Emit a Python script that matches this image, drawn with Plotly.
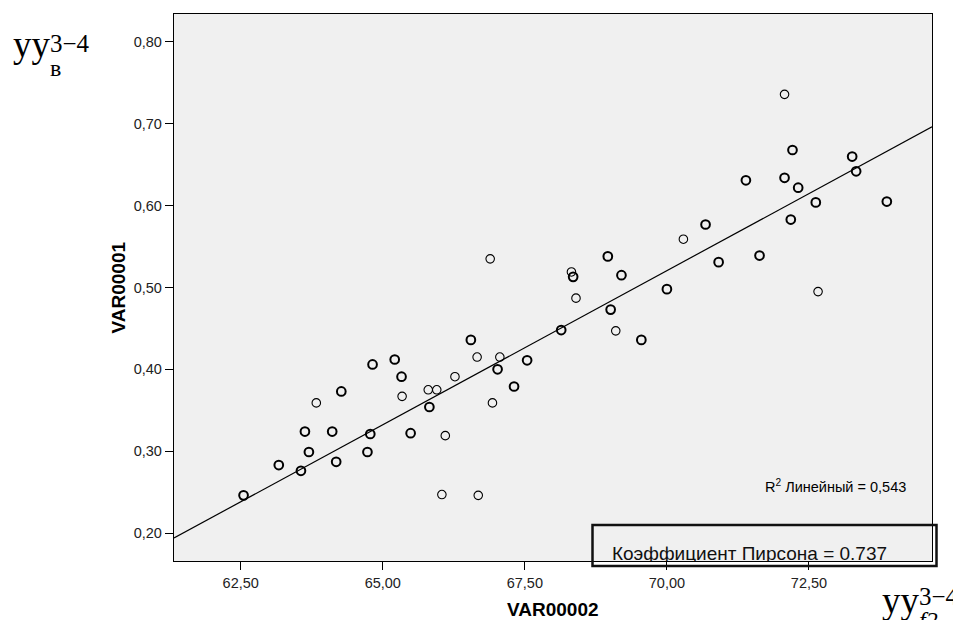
import plotly.graph_objects as go

# ---- data ----
bold_x = [62.55, 63.17, 63.56, 63.63, 63.70, 64.11, 64.18, 64.27, 64.73, 64.78,
          64.82, 65.21, 65.33, 65.49, 65.82, 66.55, 67.02, 67.31, 67.54, 68.14,
          68.35, 68.96, 69.01, 69.20, 69.55, 70.00, 70.68, 70.91, 71.39, 71.63,
          72.07, 72.21, 72.18, 72.31, 72.62, 73.26, 73.33, 73.87]
bold_y = [0.246, 0.283, 0.276, 0.324, 0.299, 0.324, 0.287, 0.373, 0.299, 0.321,
          0.406, 0.412, 0.391, 0.322, 0.354, 0.436, 0.400, 0.379, 0.411, 0.448,
          0.513, 0.538, 0.473, 0.515, 0.436, 0.498, 0.577, 0.531, 0.631, 0.539,
          0.634, 0.668, 0.583, 0.622, 0.604, 0.660, 0.642, 0.605]
thin_x = [63.83, 65.34, 65.80, 65.95, 66.04, 66.10, 66.27, 66.66, 66.68, 66.89,
          66.93, 67.06, 68.32, 68.40, 69.10, 70.29, 72.07, 72.66]
thin_y = [0.359, 0.367, 0.375, 0.375, 0.247, 0.319, 0.391, 0.415, 0.246, 0.535,
          0.359, 0.415, 0.519, 0.487, 0.447, 0.559, 0.736, 0.495]

# linear fit line as drawn in the reference (slope / intercept)
fit_slope = 0.03766
fit_intercept = -2.1156

x_tickvals = [62.5, 65.0, 67.5, 70.0, 72.5]
x_ticktext = ["62,50", "65,00", "67,50", "70,00", "72,50"]
y_tickvals = [0.2, 0.3, 0.4, 0.5, 0.6, 0.7, 0.8]
y_ticktext = ["0,20", "0,30", "0,40", "0,50", "0,60", "0,70", "0,80"]

x_range = [61.326, 74.665]
y_range = [0.1658, 0.8342]

x_title = "VAR00002"
y_title = "VAR00001"
r2_text = "R<sup>2</sup> Линейный = 0,543"
pearson_text = "Коэффициент Пирсона = 0.737"

# ---- geometry ----
# The page body has an 8 px default margin, so the figure is made 8 px
# smaller and every layout position below is given in page pixels.
OFF = 8
W, H = 961 - OFF, 620 - OFF
L, R, T, B = 174 - OFF, 29, 14 - OFF, 59
pw, ph = W - L - R, H - T - B


def px(x):
    return (x - OFF - L) / pw


def py(y):
    return (H - B - (y - OFF)) / ph


def data_x(p):
    return x_range[0] + (p - OFF - L) / pw * (x_range[1] - x_range[0])


def data_y(p):
    return y_range[1] - (p - OFF - T) / ph * (y_range[1] - y_range[0])


line_x = list(x_range)
line_y = [fit_slope * v + fit_intercept for v in line_x]

serif = "Liberation Serif, Times New Roman, serif"
sans = "Liberation Sans, Arial, sans-serif"

fig = go.Figure()
fig.add_trace(go.Scatter(
    x=line_x, y=line_y, mode="lines",
    line=dict(color="black", width=1.2), hoverinfo="skip"))
fig.add_trace(go.Scatter(
    x=thin_x, y=thin_y, mode="markers",
    marker=dict(symbol="circle-open", size=8.5, color="black",
                line=dict(width=1.1, color="black"))))
fig.add_trace(go.Scatter(
    x=bold_x, y=bold_y, mode="markers",
    marker=dict(symbol="circle-open", size=8.7, color="black",
                line=dict(width=2, color="black"))))
# Pearson text, clipped by the plot area like in the reference
fig.add_trace(go.Scatter(
    x=[data_x(749.5)], y=[data_y(555)], mode="text", text=[pearson_text],
    textposition="middle center", cliponaxis=True, hoverinfo="skip",
    textfont=dict(family=sans, size=19, color="#111")))

axis_common = dict(showline=True, mirror=True, linecolor="black", linewidth=1.3,
                   ticks="outside", ticklen=8, tickwidth=1.2, tickcolor="black",
                   showgrid=False, zeroline=False,
                   tickfont=dict(family=sans, size=14.5, color="#222"))

fig.update_xaxes(range=x_range, tickvals=x_tickvals, ticktext=x_ticktext, **axis_common)
fig.update_yaxes(range=y_range, tickvals=y_tickvals, ticktext=y_ticktext, **axis_common)

ann = []
# top-left label
ann.append(dict(text="yy", x=px(11), y=py(44.4), xanchor="left", yanchor="middle",
                font=dict(family=serif, size=37, color="black")))
ann.append(dict(text="3−4", x=px(48), y=py(43.5), xanchor="left", yanchor="middle",
                font=dict(family=serif, size=25, color="black")))
ann.append(dict(text="в", x=px(48), y=py(67.5), xanchor="left", yanchor="middle",
                font=dict(family=serif, size=24, color="black")))
# bottom-right label
ann.append(dict(text="yy", x=px(880), y=py(600), xanchor="left", yanchor="middle",
                font=dict(family=serif, size=37, color="black")))
ann.append(dict(text="3−4", x=px(917), y=py(596.2), xanchor="left", yanchor="middle",
                font=dict(family=serif, size=25, color="black")))
ann.append(dict(text="<i>f2</i>", x=px(917), y=py(620), xanchor="left", yanchor="middle",
                font=dict(family=serif, size=24, color="black")))
# axis titles
ann.append(dict(text="<b>" + x_title + "</b>", x=0.5, y=py(609), xanchor="center",
                yanchor="middle", font=dict(family=sans, size=19, color="black")))
ann.append(dict(text="<b>" + y_title + "</b>", x=px(118), y=0.5, xanchor="center",
                yanchor="middle", textangle=-90, font=dict(family=sans, size=19, color="black")))
# R2 text
ann.append(dict(text=r2_text, x=px(908), y=py(485.7), xanchor="right", yanchor="middle",
                font=dict(family=sans, size=14.5, color="black")))
for a in ann:
    a.update(xref="paper", yref="paper", showarrow=False)

shapes = [
    dict(type="rect", xref="paper", yref="paper", x0=px(592.5), x1=px(936.5),
         y0=py(566), y1=py(525), line=dict(color="#111", width=2.5),
         fillcolor="rgba(0,0,0,0)", layer="above"),
]

fig.update_layout(width=W, height=H, autosize=False,
                  margin=dict(l=L, r=R, t=T, b=B, pad=0),
                  paper_bgcolor="white", plot_bgcolor="#f0f0f0",
                  showlegend=False, annotations=ann, shapes=shapes)

fig.write_html("out.html")
